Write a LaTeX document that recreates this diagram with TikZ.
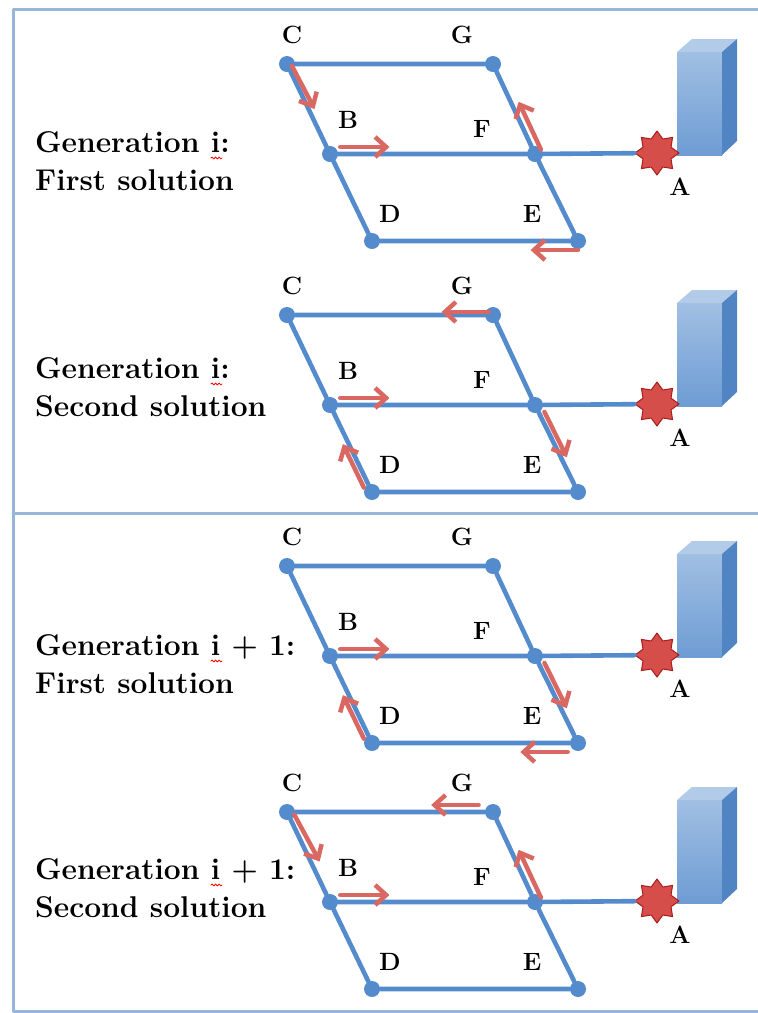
\documentclass[tikz,border=0pt]{standalone}
\usepackage{fontspec}
\usetikzlibrary{arrows.meta,calc,shapes.geometric,decorations.pathmorphing}
\definecolor{netblue}{RGB}{84,139,204}
\definecolor{frameblue}{RGB}{150,182,218}
\definecolor{flowred}{RGB}{218,104,98}
\definecolor{starred}{RGB}{214,78,74}
\definecolor{stardark}{RGB}{168,28,28}
\begin{document}
\begin{tikzpicture}[x=1pt,y=-1pt, line join = round, line cap = round]
	\tikzset{edge/.style={draw=netblue,line width=4.6pt},
		dot/.style={circle,fill=netblue,minimum size=16pt,inner sep=0pt},
		starA/.style={star,star points=8,star point ratio=1.45,minimum size=44pt,inner sep=0pt,fill=starred,draw=stardark,line width=1pt},
		flow/.style={draw=flowred,line width=4.5pt,-{Straight Barb[length=11pt,width=20pt,line width=4.5pt]}},
		lbl/.style={font=\fontsize{25}{25}\selectfont\bfseries,inner sep=0pt},
		gen/.style={anchor=west,align=left,inner sep=0pt,font=\fontsize{30}{38}\selectfont\bfseries},
		spell/.style={draw=red,line width=0.8pt,decorate,decoration={snake,segment length=3.5pt,amplitude=1pt}}}
	\useasboundingbox (0,0) rectangle (758,1013);
	\draw[frameblue,line width=3pt] (758,9) -- (13,9) -- (13,1011) -- (758,1011) (13,513) -- (758,513);
	\foreach \p/\y in {1/0,2/251,3/502,4/748}{
		\node[dot] (C\p) at (287,64+\y) {};
		\node[dot] (G\p) at (493,64+\y) {};
		\node[dot] (B\p) at (330,154+\y) {};
		\node[dot] (F\p) at (535,154+\y) {};
		\node[dot] (D\p) at (372,241+\y) {};
		\node[dot] (E\p) at (578,241+\y) {};
		% building
		\coordinate (base\p) at (677,155+\y);
		\shade[top color=netblue!55,bottom color=netblue!85] (base\p) rectangle ++(45,-103);
		\fill[netblue!45] ([shift={(0,-103)}]base\p) -- ++(15,-13) -- ++(45,0) -- ++(-15,13) -- cycle;
		\fill[netblue!95!black] ([shift={(45,-103)}]base\p) -- ++(15,-13) -- ++(0,102) -- ++(-15,14) -- cycle;
		\node[starA] (A\p) at (657,153+\y) {};
		\draw[edge] (C\p) -- (G\p) -- (F\p) -- (E\p) -- (D\p) -- (B\p) -- (C\p);
		\draw[edge] (B\p) -- (F\p) -- (A\p);
		\node[lbl] at ([shift={(5,-29)}]C\p) {C};
		\node[lbl] at ([shift={(-31,-29)}]G\p) {G};
		\node[lbl] at ([shift={(18,-34)}]B\p) {B};
		\node[lbl] at ([shift={(-53,-25)}]F\p) {F};
		\node[lbl] at ([shift={(18,-27)}]D\p) {D};
		\node[lbl] at ([shift={(-46,-27)}]E\p) {E};
		\node[lbl] at ([shift={(23,34)}]A\p) {A};
		\draw[flow] ($(B\p)!.05!(F\p)+(0,-7)$) -- ($(B\p)!.29!(F\p)+(0,-7)$);
	}
	\node[gen] (T1) at (35,161) {Generation i:\\First solution};
	\node[gen] (T2) at (35,387) {Generation i:\\Second solution};
	\node[gen] (T3) at (35,664) {Generation i + 1:\\First solution};
	\node[gen] (T4) at (35,888) {Generation i + 1:\\Second solution};
	\foreach \t in {1,...,4}
		\draw[spell] ([shift={(176,-3)}]T\t.west) -- ++(11,0);
	% moves of each solution
	\draw[flow] ($(C1)!.02!(B1)+(4,0)$) -- ($(C1)!.5!(B1)+(6,0)$);
	\draw[flow] ($(F1)!.05!(G1)+(8,0)$) -- ($(F1)!.58!(G1)+(8,0)$);
	\draw[flow] ($(E1)!.0!(D1)+(0,9)$) -- ($(E1)!.23!(D1)+(0,9)$);
	\draw[flow] ($(G2)!.02!(C2)+(0,-3)$) -- ($(G2)!.25!(C2)+(0,-3)$);
	\draw[flow] ($(F2)!.08!(E2)+(6,0)$) -- ($(F2)!.6!(E2)+(6,0)$);
	\draw[flow] ($(D2)!.05!(B2)+(-6,0)$) -- ($(D2)!.55!(B2)+(-6,0)$);
	\draw[flow] ($(F3)!.08!(E3)+(6,0)$) -- ($(F3)!.6!(E3)+(6,0)$);
	\draw[flow] ($(D3)!.05!(B3)+(-6,0)$) -- ($(D3)!.55!(B3)+(-6,0)$);
	\draw[flow] ($(E3)!.05!(D3)+(0,9)$) -- ($(E3)!.28!(D3)+(0,9)$);
	\draw[flow] ($(G4)!.07!(C4)+(0,-7)$) -- ($(G4)!.3!(C4)+(0,-7)$);
	\draw[flow] ($(C4)!.03!(B4)+(6,0)$) -- ($(C4)!.55!(B4)+(9,0)$);
	\draw[flow] ($(F4)!.05!(G4)+(8,0)$) -- ($(F4)!.58!(G4)+(8,0)$);
\end{tikzpicture}
\end{document}
